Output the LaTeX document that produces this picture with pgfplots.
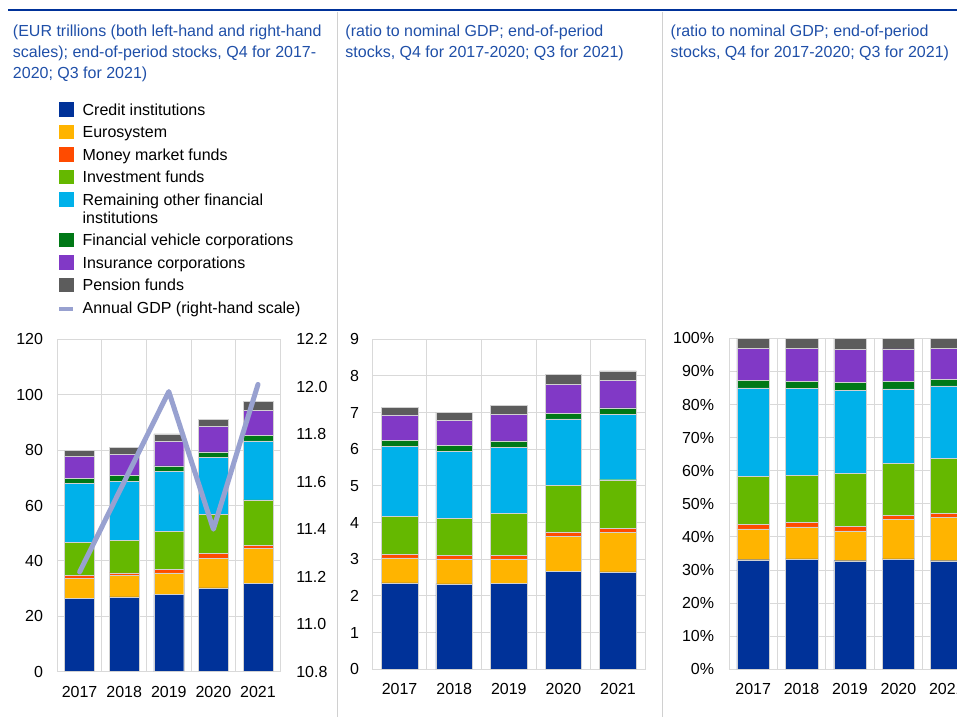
\documentclass[border=0pt]{standalone}
\usepackage{fontspec}
\setmainfont{Liberation Sans}
\usepackage{pgfplots}
\pgfplotsset{compat=1.18}
\usepackage{pgfplotstable}

\definecolor{cred}{HTML}{003299}
\definecolor{euro}{HTML}{FFB400}
\definecolor{mmf}{HTML}{FF4B00}
\definecolor{invf}{HTML}{65B800}
\definecolor{ofi}{HTML}{00B1EA}
\definecolor{fvc}{HTML}{007816}
\definecolor{ins}{HTML}{8139C6}
\definecolor{pens}{HTML}{5C5C5C}
\definecolor{gdp}{HTML}{98A1D0}
\definecolor{ecbblue}{HTML}{1F4FA8}
\definecolor{gridgray}{HTML}{D9D9D9}
\definecolor{sepgray}{HTML}{D0D0D0}

\newcommand{\fs}{\fontsize{12}{14.4}\selectfont}

% segment sizes (stacked), EUR trillions
\pgfplotstableread{
x cred euro mmf invf ofi fvc ins pens
0 26.5 7.3 1.1 11.7 21.5 1.8 7.9 2.2
1 27.0 7.7 1.0 11.7 21.4 2.0 7.7 2.5
2 27.9 7.8 1.3 13.7 21.6 2.0 8.9 2.7
3 30.3 10.7 1.7 14.2 20.6 1.9 9.1 2.7
4 31.9 12.6 1.2 16.3 21.3 2.0 9.1 3.1
}\levels
% ratio to GDP
\pgfplotstableread{
x cred euro mmf invf ofi fvc ins pens
0 2.36 0.68 0.09 1.04 1.92 0.16 0.69 0.21
1 2.33 0.68 0.09 1.01 1.84 0.16 0.68 0.22
2 2.35 0.66 0.10 1.14 1.81 0.17 0.72 0.24
3 2.68 0.94 0.13 1.27 1.81 0.16 0.79 0.26
4 2.66 1.07 0.12 1.32 1.78 0.18 0.75 0.26
}\ratios
% shares, percent
\pgfplotstableread{
x cred euro mmf invf ofi fvc ins pens
0 33.1 9.3 1.4 14.6 26.6 2.4 9.6 3.0
1 33.4 9.6 1.4 14.2 26.2 2.3 9.9 3.0
2 32.8 9.0 1.3 16.0 25.2 2.3 10.1 3.3
3 33.4 11.8 1.4 15.7 22.4 2.2 9.9 3.2
4 32.8 13.0 1.4 16.5 21.9 2.0 9.4 3.0
}\shares

\pgfplotsset{
  seg/.style={fill=#1, draw=black!18, line width=0.35pt,
    legend image code/.code={\fill[#1] (0pt,-0.4pt) rectangle (10.3pt,9.75pt);}},
  panel/.style={
    scale only axis, ybar stacked, bar width=0.67,
    xmin=-0.5, xmax=4.5, xtick={0,1,2,3,4},
    xticklabels={2017,2018,2019,2020,2021},
    minor xtick={0.5,1.5,2.5,3.5}, xminorgrids=true, ymajorgrids=true,
    grid style={draw=gridgray, line width=0.75pt},
    minor grid style={draw=gridgray, line width=0.75pt},
    axis line style={draw=gridgray, line width=0.75pt},
    major tick length=0pt, minor tick length=0pt,
    tick label style={font=\fs, text=black},
    /pgf/number format/assume math mode=true,
    xticklabel style={anchor=north, inner sep=0pt},
    yticklabel style={anchor=east, inner sep=0pt},
  },
}

\begin{document}
\begin{tikzpicture}[x=0.75pt, y=-0.75pt]
  \useasboundingbox (0,0) rectangle (957,717);
  \clip (0,0) rectangle (957,717);

  \draw[cred, line width=1.6pt] (8.3,10) -- (957,10);
  \draw[sepgray, line width=0.75pt] (337.5,12) -- (337.5,717);
  \draw[sepgray, line width=0.75pt] (662.5,12) -- (662.5,717);

  \begin{scope}[every node/.style={anchor=base west, inner sep=0pt, text=ecbblue, font=\fs}]
    \node at (12.7,37) {(EUR trillions (both left-hand and right-hand};
    \node at (12.7,58) {scales); end-of-period stocks, Q4 for 2017-};
    \node at (12.7,79) {2020; Q3 for 2021)};
    \node at (345.2,37) {(ratio to nominal GDP; end-of-period};
    \node at (345.2,58) {stocks, Q4 for 2017-2020; Q3 for 2021)};
    \node at (670.4,37) {(ratio to nominal GDP; end-of-period};
    \node at (670.4,58) {stocks, Q4 for 2017-2020; Q3 for 2021)};
  \end{scope}

  % panel 1: EUR trillions
  \begin{axis}[panel,
      at={(42.975pt,-503.775pt)}, anchor=south west,
      width=167.25pt, height=249.3pt,
      ymin=0, ymax=120, ytick={0,20,...,120},
      yticklabel style={xshift=-10.5pt},
      xticklabel style={yshift=-10.7pt},
      legend cell align=left,
      legend style={at={(0,1.7139)}, anchor=north west, draw=none, fill=none,
        inner sep=0pt, outer sep=0pt, font=\fs, row sep=4pt, column sep=5.5pt,
        nodes={inner sep=0pt, anchor=base west, text height=9.75pt, text depth=3pt}},
    ]
    \addplot[seg=cred] table[x=x, y=cred] {\levels};
    \addlegendentry{Credit institutions}
    \addplot[seg=euro] table[x=x, y=euro] {\levels};
    \addlegendentry{Eurosystem}
    \addplot[seg=mmf] table[x=x, y=mmf] {\levels};
    \addlegendentry{Money market funds}
    \addplot[seg=invf] table[x=x, y=invf] {\levels};
    \addlegendentry{Investment funds}
    \addplot[seg=ofi] table[x=x, y=ofi] {\levels};
    \addlegendentry{Remaining other financial}
    \addlegendimage{empty legend}
    \addlegendentry[text height=6.3pt]{institutions}
    \addplot[seg=fvc] table[x=x, y=fvc] {\levels};
    \addlegendentry{Financial vehicle corporations}
    \addplot[seg=ins] table[x=x, y=ins] {\levels};
    \addlegendentry{Insurance corporations}
    \addplot[seg=pens] table[x=x, y=pens] {\levels};
    \addlegendentry{Pension funds}
    \addlegendimage{legend image code/.code={\draw[gdp, line width=3.2pt] (0pt,3pt) -- (10.3pt,3pt);}}
    \addlegendentry{Annual GDP (right-hand scale)}
  \end{axis}

  % panel 1: GDP, right-hand scale
  \begin{axis}[scale only axis,
      at={(42.975pt,-503.775pt)}, anchor=south west,
      width=167.25pt, height=249.3pt,
      xmin=-0.5, xmax=4.5, hide x axis, axis y line*=right,
      ymin=10.8, ymax=12.2, ytick={10.8,11,11.2,11.4,11.6,11.8,12,12.2},
      axis line style={draw=gridgray, line width=0.75pt},
      major tick length=0pt,
      tick label style={font=\fs, text=black},
      /pgf/number format/assume math mode=true,
      yticklabel={\pgfmathprintnumber[fixed, fixed zerofill, precision=1]{\tick}},
      yticklabel style={anchor=west, inner sep=0pt, xshift=11.8pt},
    ]
    \addplot[gdp, line width=3.75pt, line cap=round, line join=round, mark=none]
      coordinates {(0,11.22) (1,11.60) (2,11.98) (3,11.40) (4,12.01)};
  \end{axis}

  % panel 2: ratio to GDP
  \begin{axis}[panel,
      at={(279.225pt,-501.975pt)}, anchor=south west,
      width=204.75pt, height=247.5pt,
      ymin=0, ymax=9, ytick={0,1,...,9},
      yticklabel style={xshift=-9.75pt},
      xticklabel style={yshift=-10pt},
    ]
    \addplot[seg=cred] table[x=x, y=cred] {\ratios};
    \addplot[seg=euro] table[x=x, y=euro] {\ratios};
    \addplot[seg=mmf] table[x=x, y=mmf] {\ratios};
    \addplot[seg=invf] table[x=x, y=invf] {\ratios};
    \addplot[seg=ofi] table[x=x, y=ofi] {\ratios};
    \addplot[seg=fvc] table[x=x, y=fvc] {\ratios};
    \addplot[seg=ins] table[x=x, y=ins] {\ratios};
    \addplot[seg=pens] table[x=x, y=pens] {\ratios};
  \end{axis}

  % panel 3: shares
  \begin{axis}[panel,
      at={(546.75pt,-501.975pt)}, anchor=south west,
      width=181.5pt, height=248.25pt,
      ymin=0, ymax=100, ytick={0,10,...,100},
      yticklabel={\pgfmathprintnumber{\tick}\%},
      yticklabel style={xshift=-11pt},
      xticklabel style={yshift=-10pt},
    ]
    \addplot[seg=cred] table[x=x, y=cred] {\shares};
    \addplot[seg=euro] table[x=x, y=euro] {\shares};
    \addplot[seg=mmf] table[x=x, y=mmf] {\shares};
    \addplot[seg=invf] table[x=x, y=invf] {\shares};
    \addplot[seg=ofi] table[x=x, y=ofi] {\shares};
    \addplot[seg=fvc] table[x=x, y=fvc] {\shares};
    \addplot[seg=ins] table[x=x, y=ins] {\shares};
    \addplot[seg=pens] table[x=x, y=pens] {\shares};
  \end{axis}
\end{tikzpicture}
\end{document}
